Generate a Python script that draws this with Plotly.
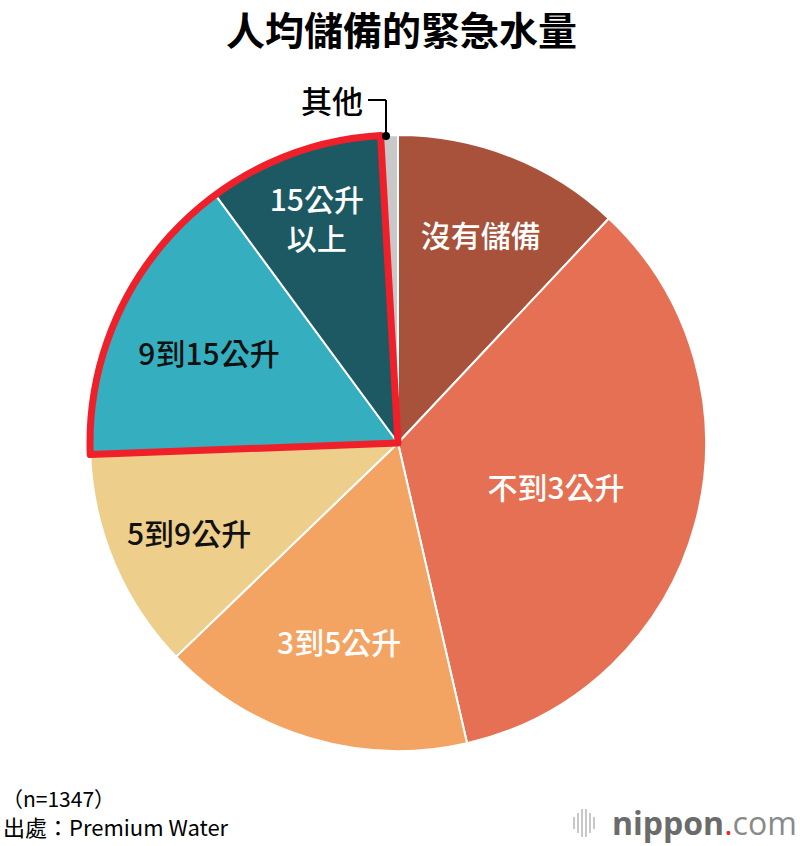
import plotly.graph_objects as go

W, H = 800, 846

categories = ["沒有儲備", "不到3公升", "3到5公升", "5到9公升", "9到15公升", "15公升以上", "其他"]
slice_text = ["沒有儲備", "不到3公升", "3到5公升", "5到9公升", "9到15公升", "15公升<br>以上", ""]
values = [12.0, 34.4, 16.4, 11.6, 15.5, 9.2, 0.9]
colors = ["#A8513B", "#E67053", "#F3A462", "#EDCE8A", "#35AFC0", "#1D5963", "#C8C8C8"]
text_colors = ["white", "white", "white", "#111111", "#111111", "white", "white"]
highlight = ["9到15公升", "15公升以上"]

FONT = "Noto Sans CJK TC"


def px(x):
    return x / W


def py(y):
    return 1 - y / H


dom_x = [px(90), px(706)]
dom_y = [py(751), py(135)]

fig = go.Figure()
fig.add_trace(go.Pie(
    labels=categories,
    values=values,
    text=slice_text,
    textinfo="text",
    textposition="inside",
    insidetextorientation="horizontal",
    sort=False,
    direction="clockwise",
    rotation=0,
    marker=dict(colors=colors, line=dict(color="white", width=2)),
    textfont=dict(family=FONT, size=30, color=text_colors, weight=500),
    domain=dict(x=dom_x, y=dom_y),
    hoverinfo="label+percent",
    showlegend=False,
))

# red outline around the highlighted group
hi_idx = [categories.index(c) for c in highlight]
before = sum(values[:hi_idx[0]])
group = sum(values[i] for i in hi_idx)
after = sum(values[hi_idx[-1] + 1:])
fig.add_trace(go.Pie(
    values=[before, group, after],
    labels=["a", "b", "c"],
    textinfo="none",
    sort=False,
    direction="clockwise",
    rotation=0,
    marker=dict(colors=["rgba(0,0,0,0)"] * 3,
                line=dict(color=["rgba(0,0,0,0)", "#F0202A", "rgba(0,0,0,0)"], width=[0, 7, 0])),
    domain=dict(x=dom_x, y=dom_y),
    hoverinfo="skip",
    showlegend=False,
))

shapes = [
    dict(type="line", xref="paper", yref="paper", x0=px(368), y0=py(100), x1=px(386), y1=py(100),
         line=dict(color="black", width=2)),
    dict(type="line", xref="paper", yref="paper", x0=px(386), y0=py(100), x1=px(386), y1=py(136),
         line=dict(color="black", width=2)),
    dict(type="circle", xref="paper", yref="paper", x0=px(382), y0=py(132), x1=px(390), y1=py(140),
         fillcolor="black", line=dict(color="black", width=0)),
]
# logo bars
bars = [(574, 12), (578, 20), (582, 28), (586, 28), (590, 20), (594, 12)]
for bx, bh in bars:
    shapes.append(dict(type="line", xref="paper", yref="paper", x0=px(bx), x1=px(bx),
                       y0=py(823 - bh / 2), y1=py(823 + bh / 2), line=dict(color="#C8C8C8", width=2)))

annotations = [
    dict(text="<b>人均儲備的緊急水量</b>", x=px(401), y=py(28), xref="paper", yref="paper",
         xanchor="center", yanchor="middle", showarrow=False,
         font=dict(family=FONT, size=39, color="black", weight=900)),
    dict(text="其他", x=px(365), y=py(100), xref="paper", yref="paper",
         xanchor="right", yanchor="middle", showarrow=False,
         font=dict(family=FONT, size=31, color="black", weight=500)),
    dict(text="（n=1347）", x=px(0), y=py(798), xref="paper", yref="paper",
         xanchor="left", yanchor="middle", showarrow=False, font=dict(family=FONT, size=21, color="black")),
    dict(text="出處：Premium Water", x=px(1), y=py(826), xref="paper", yref="paper",
         xanchor="left", yanchor="middle", showarrow=False, font=dict(family=FONT, size=22, color="black")),
    dict(text="<b>nippon</b><span style='color:#E8262A'>.</span><span style='color:#8a8a8a'>com</span>",
         x=px(799), y=py(822), xref="paper", yref="paper",
         xanchor="right", yanchor="middle", showarrow=False,
         font=dict(family="Open Sans", size=32, color="#6b6b6b")),
]

fig.update_layout(
    width=W, height=H,
    margin=dict(l=0, r=0, t=0, b=0),
    paper_bgcolor="white",
    plot_bgcolor="white",
    shapes=shapes,
    annotations=annotations,
    uniformtext=dict(minsize=28, mode="show"),
)

fig.write_html("out.html", config={"displayModeBar": False},
               post_script="document.body.style.margin='0';document.body.style.padding='0';")
